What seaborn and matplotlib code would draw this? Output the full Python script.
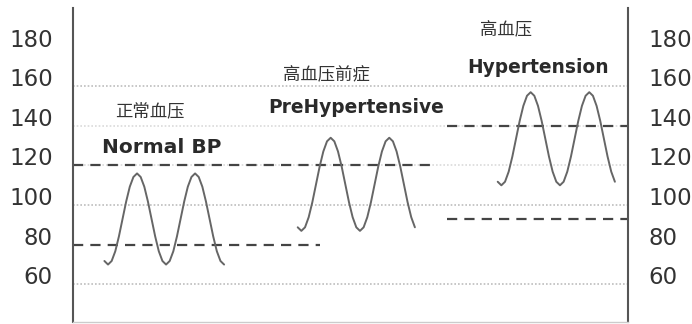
import numpy as np
import pandas as pd
import matplotlib
matplotlib.use("Agg")
import matplotlib.pyplot as plt
import matplotlib.transforms as mtransforms
import seaborn as sns

# blood pressure waves (mmHg)
normal_bp = [71.8, 70, 71.8, 76.7, 84.2, 93, 101.8, 109.3, 114.2, 116, 114.2, 109.3,
             101.8, 93, 84.2, 76.7, 71.8, 70, 71.8, 76.7, 84.2, 93, 101.8, 109.3,
             114.2, 116, 114.2, 109.3, 101.8, 93, 84.2, 76.7, 71.8, 70]
pre_bp = [88.8, 87, 88.8, 93.9, 101.5, 110.5, 119.5, 127.1, 132.2, 134, 132.2, 127.1,
          119.5, 110.5, 101.5, 93.9, 88.8, 87, 88.8, 93.9, 101.5, 110.5, 119.5, 127.1,
          132.2, 134, 132.2, 127.1, 119.5, 110.5, 101.5, 93.9, 88.8]
hyper_bp = [111.8, 110, 111.8, 116.9, 124.5, 133.5, 142.5, 150.1, 155.2, 157, 155.2, 150.1,
            142.5, 133.5, 124.5, 116.9, 111.8, 110, 111.8, 116.9, 124.5, 133.5, 142.5, 150.1,
            155.2, 157, 155.2, 150.1, 142.5, 133.5, 124.5, 116.9, 111.8]
wave_x_range = [(104.4, 224.1), (297.7, 414.9), (497.7, 614.9)]

# threshold lines: value, start, end
limit_values = [120, 80, 140, 93]
limit_starts = [73, 73, 447, 447]
limit_ends = [430, 320, 628, 628]

grid_values = [60, 100, 120, 140, 160]
y_ticks = [60, 80, 100, 120, 140, 160, 180]

labels_cn = ["正常血压", "高血压前症", "高血压"]
labels_en = ["Normal BP", "PreHypertensive", "Hypertension"]

rows = []
for name, vals, (x0, x1) in zip(labels_en, [normal_bp, pre_bp, hyper_bp], wave_x_range):
    for x, v in zip(np.linspace(x0, x1, len(vals)), vals):
        rows.append([name, x, v])
df = pd.DataFrame(rows, columns=["group", "x", "bp"])

sns.set_theme(style="white")
plt.rcParams["font.family"] = ["DejaVu Sans", "Noto Sans CJK SC"]

fig = plt.figure(figsize=(6.92, 3.24), dpi=100)
ax = fig.add_axes([73 / 692, 2 / 324, 555 / 692, 314 / 324])

for g in grid_values:
    faint = g in (120, 140)
    ax.axhline(g, color="#dadada" if faint else "#bdbdbd", lw=1.2,
               ls=(0, (1, 1.2)), zorder=1)

ax.hlines(limit_values, limit_starts, limit_ends, colors="#444444", lw=1.6,
          linestyles=[(0, (4.6, 3.2))], zorder=2)

sns.lineplot(data=df, x="x", y="bp", units="group", estimator=None, color="#666666",
             lw=1.4, ax=ax, zorder=3)

ax.set_xlim(73, 628)
ax.set_ylim(41, 199.5)
ax.set_yticks(y_ticks)
ax.set_xticks([])
ax.set_xlabel("")
ax.set_ylabel("")
ax.tick_params(axis="y", left=False, right=False, length=0, labelleft=True,
               labelright=True, pad=14.5, labelsize=16.5, labelcolor="#333333")

# the tick labels sit a little above their grid value in the original
offset = mtransforms.ScaledTranslation(0, 9 / 100, fig.dpi_scale_trans)
for t in ax.yaxis.get_major_ticks():
    t.label1.set_transform(t.label1.get_transform() + offset)
    t.label2.set_transform(t.label2.get_transform() + offset)

for side in ["left", "right"]:
    ax.spines[side].set_color("#555555")
    ax.spines[side].set_linewidth(1.5)
ax.spines["top"].set_visible(False)
ax.spines["bottom"].set_color("#cccccc")
ax.spines["bottom"].set_linewidth(1.0)

cjk = ["Noto Sans CJK SC", "DejaVu Sans"]
cn_pos = [(149.5, 147.6), (326.5, 165.6), (506.5, 188.2)]
en_pos = [(162, 126.2), (356.5, 146.3), (538.5, 166.6)]
en_size = [14.5, 13.4, 13.4]
for txt, (x, y) in zip(labels_cn, cn_pos):
    ax.text(x, y, txt, ha="center", va="center", fontsize=12.5, family=cjk,
            color="#333333")
for txt, (x, y), s in zip(labels_en, en_pos, en_size):
    ax.text(x, y, txt, ha="center", va="baseline", fontsize=s, fontweight="bold",
            color="#2a2a2a")

fig.savefig("out.png", dpi=100)
